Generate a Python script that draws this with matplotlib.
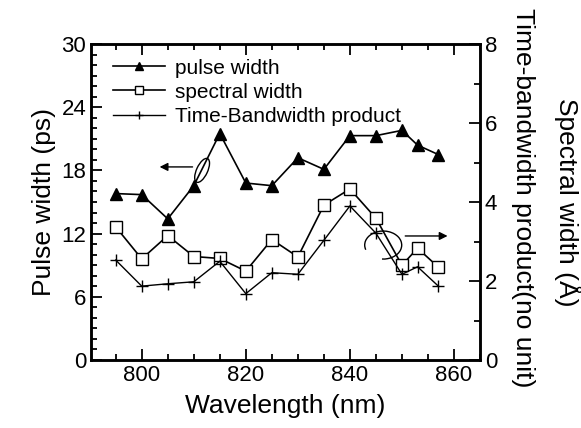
import matplotlib
matplotlib.use("Agg")
import matplotlib.pyplot as plt
from matplotlib.patches import Ellipse, Arc
from matplotlib.transforms import ScaledTranslation
from matplotlib.ticker import MultipleLocator

plt.rcParams['font.family'] = ['Liberation Sans', 'DejaVu Sans']

wavelength = [795, 800, 805, 810, 815, 820, 825, 830, 835, 840, 845, 850, 853, 857]
pulse_width = [15.8, 15.7, 13.4, 16.55, 21.5, 16.8, 16.55, 19.2, 18.1, 21.3, 21.3, 21.8, 20.4, 19.5]
spectral_width = [3.37, 2.56, 3.15, 2.62, 2.57, 2.25, 3.05, 2.61, 3.92, 4.33, 3.59, 2.40, 2.83, 2.35]
tbp = [2.53, 1.87, 1.93, 1.98, 2.50, 1.68, 2.21, 2.17, 3.03, 3.90, 3.21, 2.17, 2.36, 1.87]

fig = plt.figure(figsize=(5.81, 4.28), dpi=100)
ax = fig.add_axes([91/581, 1-360/428, (480-91)/581, (360-44)/428])
ax2 = ax.twinx()

l1, = ax.plot(wavelength, pulse_width, '-', color='black', lw=1.2, marker='^',
              ms=9, mfc='black', mec='black')
l2, = ax2.plot(wavelength, spectral_width, '-', color='black', lw=1.2, marker='s',
               ms=8, mfc='white', mec='black', mew=1.0)
l3, = ax2.plot(wavelength, tbp, '-', color='black', lw=1.0, marker='+',
               ms=8, mec='black', mew=1.0)

ax.set_xlim(790.25, 865)
ax.set_ylim(0, 30)
ax2.set_ylim(0, 8)

ax.xaxis.set_major_locator(MultipleLocator(20))
ax.xaxis.set_minor_locator(MultipleLocator(5))
ax.yaxis.set_major_locator(MultipleLocator(6))
ax.yaxis.set_minor_locator(MultipleLocator(1))
ax2.yaxis.set_major_locator(MultipleLocator(2))
ax2.yaxis.set_minor_locator(MultipleLocator(1))

ax.tick_params(axis='both', which='both', direction='in', top=True, labelsize=16, width=1.3)
ax.tick_params(axis='both', which='major', length=8)
ax.tick_params(axis='both', which='minor', length=4)
ax.tick_params(axis='y', right=False)
ax2.tick_params(axis='y', which='both', direction='in', labelsize=16, width=1.3)
ax2.tick_params(axis='y', which='major', length=8)
ax2.tick_params(axis='y', which='minor', length=4)

for a in (ax, ax2):
    for s in a.spines.values():
        s.set_linewidth(1.8)

ax.set_xlabel('Wavelength (nm)', fontsize=19, labelpad=6)
ax.set_ylabel('Pulse width (ps)', fontsize=19, labelpad=4)
fig.text(523/581, 1-198/428, 'Time-bandwidth product(no unit)', fontsize=19, rotation=270,
         ha='center', va='center')
fig.text(568/581, 1-202/428, 'Spectral width (Å)', fontsize=19, rotation=270,
         ha='center', va='center')

leg = ax2.legend([l1, l2, l3], ['pulse width', 'spectral width', 'Time-Bandwidth product'],
                 loc='upper left', frameon=False, fontsize=15, handlelength=2.5,
                 handletextpad=0.48, labelspacing=0.25, borderaxespad=0.3,
                 markerscale=0.65, bbox_to_anchor=(0.02, 1.0))

# left annotation: ellipse + arrow pointing to left axis
tr1 = fig.dpi_scale_trans + ScaledTranslation(811.6, 18.0, ax.transData)
ax.add_patch(Ellipse((0, 0), 0.11, 0.26, angle=-25, transform=tr1,
                     fill=False, ec='black', lw=1.0))
ax.annotate('', xy=(802.9, 18.33), xytext=(810.3, 18.33),
            arrowprops=dict(arrowstyle='-|>', color='black', lw=1.0, mutation_scale=12))

# right annotation: open arc + arrow pointing to right axis
tr2 = fig.dpi_scale_trans + ScaledTranslation(846.4, 2.91, ax2.transData)
ax2.add_patch(Arc((0, 0), 0.37, 0.28, angle=0, theta1=-95, theta2=195,
                  transform=tr2, ec='black', lw=1.0))
ax2.annotate('', xy=(859.3, 3.14), xytext=(850.1, 3.14),
             arrowprops=dict(arrowstyle='-|>', color='black', lw=1.0, mutation_scale=12))

fig.savefig('out.png', dpi=100)
